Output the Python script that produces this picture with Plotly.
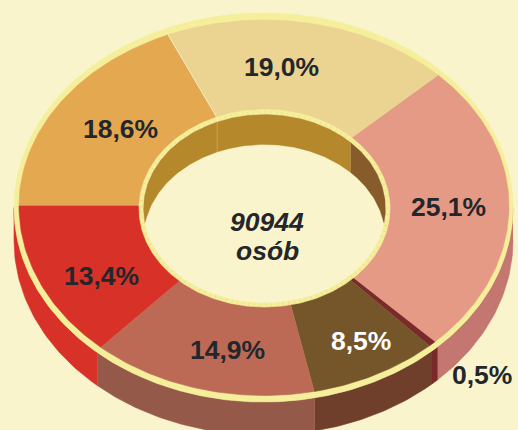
import numpy as np
import plotly.graph_objects as go

# Data
categories = ["A", "B", "C", "D", "E", "F", "G"]
shares = [18.6, 19.0, 25.1, 0.5, 8.5, 14.9, 13.4]
labels = ["18,6%", "19,0%", "25,1%", "0,5%", "8,5%", "14,9%", "13,4%"]
center_lines = ["90944", "osób"]

# Styles
BG = "#FAF4CC"
RIM = "#F5EE9B"
TEXT = "#23272B"
top_colors = ["#E4A851", "#EBD391", "#E59A85", "#7A2A2A", "#75552A", "#BC6A55", "#D73128"]
wall_colors = ["#E4A851", "#EBD391", "#C47670", "#7A2A2A", "#6F3F2B", "#95594A", "#D73128"]
hole_colors = ["#B4882B", "#B4882B", "#875C2A", "#875C2A", "#875C2A", "#875C2A", "#B4882B"]
label_colors = [TEXT, TEXT, TEXT, TEXT, "#FFFFFF", TEXT, TEXT]
label_xy = [(120.5, 129), (281, 67), (448.5, 207), (482, 375), (361, 341), (227, 350), (101, 276)]
center_xy = [(267, 222), (267, 251)]

# Geometry of the drawing (pixels)
RIM_OUT = (263.5, 207.5, 249.5, 194.5)
TOP_OUT = (264.0, 206.0, 245.0, 186.0)
TOP_OUT_FRONT_RY = 189.5
TOP_IN = (264.5, 206.0, 123.0, 97.0)
RIM_IN = (264.5, 208.5, 125.5, 98.5)
HOLE = (264.5, 208.5, 121.0, 94.0)
DEPTH = 33
HOLE_DEPTH = 30

cum = np.concatenate([[0], np.cumsum(shares)]) / sum(shares)
# clockwise from the 9 o'clock position; screen y points down
edges = np.pi + cum * 2 * np.pi


def pt(e, a):
    return e[0] + e[2] * np.cos(a), e[1] + e[3] * np.sin(a)


def pt_top(a):
    s = np.sin(a)
    return TOP_OUT[0] + TOP_OUT[2] * np.cos(a), TOP_OUT[1] + np.where(s > 0, TOP_OUT_FRONT_RY, TOP_OUT[3]) * s


def arc(a0, a1, n=None):
    n = n or max(int(abs(a1 - a0) * 60), 3)
    return np.linspace(a0, a1, n)


fig = go.Figure()


def poly(x, y, color, lw=0.6):
    fig.add_trace(go.Scatter(
        x=np.round(x, 2), y=np.round(y, 2), mode="lines", fill="toself",
        fillcolor=color, line=dict(color=color, width=lw),
        hoverinfo="skip", showlegend=False,
    ))


def seam(x, y, color):
    fig.add_trace(go.Scatter(x=x, y=y, mode="lines", line=dict(color=color, width=1),
                             hoverinfo="skip", showlegend=False))


# outer wall: front half only
for i in range(len(shares)):
    lo, hi = max(edges[i], 2 * np.pi), min(edges[i + 1], 3 * np.pi)
    if hi <= lo:
        continue
    t = arc(lo, hi)
    x, y = pt(RIM_OUT, t)
    poly(np.r_[x, x[::-1]], np.r_[y, y[::-1] + DEPTH], wall_colors[i])

# rim and ring top
t = arc(0, 2 * np.pi, 500)
poly(*pt(RIM_OUT, t), RIM)
for i in range(len(shares)):
    t = arc(edges[i], edges[i + 1])
    xo, yo = pt_top(t)
    xi, yi = pt(TOP_IN, t[::-1])
    poly(np.r_[xo, xi], np.r_[yo, yi], top_colors[i])

# thin light seam between the two back wedges
xo, yo = pt_top(edges[1])
xi, yi = pt(TOP_IN, edges[1])
seam([xo, xi], [yo, yi], "#F7EBC4")

# inner rim and hole
t = arc(0, 2 * np.pi, 400)
poly(*pt(RIM_IN, t), RIM)
poly(*pt(HOLE, t), BG)
tick = pt((RIM_IN[0], RIM_IN[1], 123.2, 96.2), t)
fig.add_trace(go.Scatter(x=tick[0], y=tick[1], mode="lines",
                         line=dict(color="#E9DE8C", width=3.4, dash="0.7px,5px"),
                         hoverinfo="skip", showlegend=False))


def hole_low(x):
    u = np.sqrt(np.clip(1 - ((x - HOLE[0]) / HOLE[2]) ** 2, 0, 1)) * HOLE[3]
    return np.minimum(HOLE[1] + HOLE_DEPTH - u, HOLE[1] + u)


for i in range(len(shares)):
    lo, hi = max(edges[i], np.pi), min(edges[i + 1], 2 * np.pi)
    if hi <= lo:
        continue
    tt = arc(lo, hi)
    x, y = pt(HOLE, tt)
    poly(np.r_[x, x[::-1]], np.r_[y, hole_low(x)[::-1]], hole_colors[i], lw=0.3)

xs, ys = pt(HOLE, edges[1])
seam([xs, xs], [ys, hole_low(np.array([xs]))[0]], "#C9A24C")

# labels
for txt, (lx, ly), col in zip(labels, label_xy, label_colors):
    fig.add_annotation(x=lx, y=ly, text=f"<b>{txt}</b>", showarrow=False,
                       font=dict(family="Liberation Sans", size=26.5, color=col))
for txt, (lx, ly) in zip(center_lines, center_xy):
    fig.add_annotation(x=lx, y=ly, text=f"<b><i>{txt}</i></b>", showarrow=False,
                       font=dict(family="Liberation Sans", size=26.5, color=TEXT))

fig.update_layout(
    width=518, height=430, autosize=False, margin=dict(l=0, r=0, t=0, b=0),
    paper_bgcolor=BG, plot_bgcolor=BG,
    xaxis=dict(range=[0, 518], visible=False, fixedrange=True),
    yaxis=dict(range=[430, 0], visible=False, fixedrange=True),
)
fig.write_html("out.html", config=dict(displayModeBar=False),
               post_script="document.body.style.margin='0';document.body.style.background='%s';" % BG)
